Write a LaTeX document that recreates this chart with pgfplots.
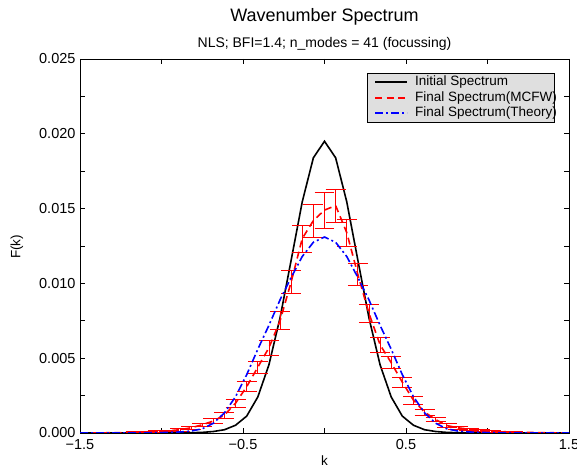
\documentclass[border=0pt]{standalone}
\usepackage{fontspec}
\setmainfont{Liberation Sans}
\usepackage{pgfplots}
\usepackage{pgfplotstable}
\pgfplotsset{compat=1.18}

\pgfplotstableread{
k F
-1.5000 0
-1.4318 0
-1.3636 0
-1.2955 0
-1.2273 0
-1.1591 0
-1.0909 0
-1.0227 0
-0.9545 0
-0.8864 0.00001
-0.8182 0.00002
-0.7500 0.00004
-0.6818 0.0001
-0.6136 0.00022
-0.5455 0.00052
-0.4773 0.00113
-0.4091 0.00241
-0.3409 0.00456
-0.2727 0.0077
-0.2045 0.01156
-0.1364 0.01546
-0.0682 0.0184
0.0000 0.0195
0.0682 0.0184
0.1364 0.01546
0.2045 0.01156
0.2727 0.0077
0.3409 0.00456
0.4091 0.00241
0.4773 0.00113
0.5455 0.00052
0.6136 0.00022
0.6818 0.0001
0.7500 0.00004
0.8182 0.00002
0.8864 0.00001
0.9545 0
1.0227 0
1.0909 0
1.1591 0
1.2273 0
1.2955 0
1.3636 0
1.4318 0
1.5000 0
}\initialtab

\pgfplotstableread{
k F
-1.5000 0
-1.4318 0.00001
-1.3636 0.00001
-1.2955 0.00002
-1.2273 0.00003
-1.1591 0.00005
-1.0909 0.00007
-1.0227 0.0001
-0.9545 0.00015
-0.8864 0.00022
-0.8182 0.00035
-0.7500 0.00055
-0.6818 0.0008
-0.6136 0.0012
-0.5455 0.0020
-0.4773 0.0031
-0.4091 0.0044
-0.3409 0.0057
-0.2727 0.0075
-0.2045 0.0101
-0.1364 0.0130
-0.0682 0.0142
0.0000 0.0149
0.0682 0.0152
0.1364 0.0134
0.2045 0.0106
0.2727 0.0080
0.3409 0.0059
0.4091 0.0047
0.4773 0.0034
0.5455 0.0022
0.6136 0.0014
0.6818 0.0009
0.7500 0.0005
0.8182 0.00035
0.8864 0.00025
0.9545 0.00018
1.0227 0.00012
1.0909 0.00009
1.1591 0.00006
1.2273 0.00004
1.2955 0.00003
1.3636 0.00002
1.4318 0.00001
1.5000 0.00001
}\mcfwtab

\pgfplotstableread{
k F
-1.5000 0
-1.4318 0
-1.3636 0
-1.2955 0
-1.2273 0
-1.1591 0
-1.0909 0.00001
-1.0227 0.00002
-0.9545 0.00004
-0.8864 0.00007
-0.8182 0.00013
-0.7500 0.00028
-0.6818 0.00065
-0.6136 0.00135
-0.5455 0.00243
-0.4773 0.0039
-0.4091 0.0056
-0.3409 0.0072
-0.2727 0.0089
-0.2045 0.0104
-0.1364 0.0118
-0.0682 0.01275
0.0000 0.0131
0.0682 0.01275
0.1364 0.0118
0.2045 0.0104
0.2727 0.0089
0.3409 0.0072
0.4091 0.0056
0.4773 0.0039
0.5455 0.00243
0.6136 0.00135
0.6818 0.00065
0.7500 0.00028
0.8182 0.00013
0.8864 0.00007
0.9545 0.00004
1.0227 0.00002
1.0909 0.00001
1.1591 0
1.2273 0
1.2955 0
1.3636 0
1.4318 0
1.5000 0
}\theorytab

\begin{document}
\begin{tikzpicture}[x=1pt,y=1pt]
\useasboundingbox (-80,-37) rectangle (497,433);
\begin{axis}[
  at={(0,0)}, anchor=south west,
  scale only axis, width=489pt, height=374pt,
  xmin=-1.5, xmax=1.5, ymin=0, ymax=0.025,
  xtick={-1.5,-0.5,0.5,1.5},
  xticklabels={−1.5,−0.5,0.5,1.5},
  minor xtick={-1,0,1},
  ytick={0,0.005,0.010,0.015,0.020,0.025},
  yticklabels={0.000,0.005,0.010,0.015,0.020,0.025},
  minor ytick={0.0025,0.0075,0.0125,0.0175,0.0225},
  scaled y ticks=false,
  tick align=inside,
  major tick length=5pt, minor tick length=5pt,
  tick style={black, line width=0.6pt},
  axis line style={line width=0.9pt},
  ticklabel style={font=\fontsize{14.5}{17}\selectfont},
  xticklabel style={yshift=-3pt},
  yticklabel style={xshift=-1pt},
  clip=true,
  unbounded coords=jump,
]
\addplot[color=black, line width=1.6pt] table[x=k,y=F] {\initialtab};
% vertical error bars (k, F-e) -- (k, F+e)
\addplot[color=red, solid, line width=0.7pt, forget plot] coordinates {
(-1.1591,0.00001) (-1.1591,0.00009) (0,nan)
(-1.0909,0.00003) (-1.0909,0.00011) (0,nan)
(-1.0227,0.00005) (-1.0227,0.00015) (0,nan)
(-0.9545,0.00009) (-0.9545,0.00021) (0,nan)
(-0.8864,0.00014) (-0.8864,0.00030) (0,nan)
(-0.8182,0.00025) (-0.8182,0.00045) (0,nan)
(-0.7500,0.00043) (-0.7500,0.00067) (0,nan)
(-0.6818,0.00065) (-0.6818,0.00095) (0,nan)
(-0.6136,0.00100) (-0.6136,0.00140) (0,nan)
(-0.5455,0.00174) (-0.5455,0.00226) (0,nan)
(-0.4773,0.00278) (-0.4773,0.00342) (0,nan)
(-0.4091,0.00400) (-0.4091,0.00480) (0,nan)
(-0.3409,0.00520) (-0.3409,0.00620) (0,nan)
(-0.2727,0.00690) (-0.2727,0.00810) (0,nan)
(-0.2045,0.00935) (-0.2045,0.01085) (0,nan)
(-0.1364,0.01210) (-0.1364,0.01390) (0,nan)
(-0.0682,0.01310) (-0.0682,0.01530) (0,nan)
(0.0000,0.01370) (0.0000,0.01610) (0,nan)
(0.0682,0.01410) (0.0682,0.01630) (0,nan)
(0.1364,0.01250) (0.1364,0.01430) (0,nan)
(0.2045,0.00985) (0.2045,0.01135) (0,nan)
(0.2727,0.00740) (0.2727,0.00860) (0,nan)
(0.3409,0.00540) (0.3409,0.00640) (0,nan)
(0.4091,0.00430) (0.4091,0.00510) (0,nan)
(0.4773,0.00308) (0.4773,0.00372) (0,nan)
(0.5455,0.00194) (0.5455,0.00246) (0,nan)
(0.6136,0.00120) (0.6136,0.00160) (0,nan)
(0.6818,0.00075) (0.6818,0.00105) (0,nan)
(0.7500,0.00038) (0.7500,0.00062) (0,nan)
(0.8182,0.00025) (0.8182,0.00045) (0,nan)
(0.8864,0.00017) (0.8864,0.00033) (0,nan)
(0.9545,0.00012) (0.9545,0.00024) (0,nan)
(1.0227,0.00007) (1.0227,0.00017) (0,nan)
(1.0909,0.00005) (1.0909,0.00013) (0,nan)
(1.1591,0.00002) (1.1591,0.00010)
};
% error bar caps (k +- cap half-width, F +- e)
\addplot[color=red, solid, line width=0.7pt, forget plot] coordinates {
(-1.2204,0.00009) (-1.0978,0.00009) (0,nan) (-1.2204,0.00001) (-1.0978,0.00001) (0,nan)
(-1.1522,0.00011) (-1.0296,0.00011) (0,nan) (-1.1522,0.00003) (-1.0296,0.00003) (0,nan)
(-1.0840,0.00015) (-0.9614,0.00015) (0,nan) (-1.0840,0.00005) (-0.9614,0.00005) (0,nan)
(-1.0158,0.00021) (-0.8932,0.00021) (0,nan) (-1.0158,0.00009) (-0.8932,0.00009) (0,nan)
(-0.9477,0.00030) (-0.8251,0.00030) (0,nan) (-0.9477,0.00014) (-0.8251,0.00014) (0,nan)
(-0.8795,0.00045) (-0.7569,0.00045) (0,nan) (-0.8795,0.00025) (-0.7569,0.00025) (0,nan)
(-0.8113,0.00067) (-0.6887,0.00067) (0,nan) (-0.8113,0.00043) (-0.6887,0.00043) (0,nan)
(-0.7431,0.00095) (-0.6205,0.00095) (0,nan) (-0.7431,0.00065) (-0.6205,0.00065) (0,nan)
(-0.6749,0.00140) (-0.5523,0.00140) (0,nan) (-0.6749,0.00100) (-0.5523,0.00100) (0,nan)
(-0.6068,0.00226) (-0.4842,0.00226) (0,nan) (-0.6068,0.00174) (-0.4842,0.00174) (0,nan)
(-0.5386,0.00342) (-0.4160,0.00342) (0,nan) (-0.5386,0.00278) (-0.4160,0.00278) (0,nan)
(-0.4704,0.00480) (-0.3478,0.00480) (0,nan) (-0.4704,0.00400) (-0.3478,0.00400) (0,nan)
(-0.4022,0.00620) (-0.2796,0.00620) (0,nan) (-0.4022,0.00520) (-0.2796,0.00520) (0,nan)
(-0.3340,0.00810) (-0.2114,0.00810) (0,nan) (-0.3340,0.00690) (-0.2114,0.00690) (0,nan)
(-0.2658,0.01085) (-0.1432,0.01085) (0,nan) (-0.2658,0.00935) (-0.1432,0.00935) (0,nan)
(-0.1977,0.01390) (-0.0751,0.01390) (0,nan) (-0.1977,0.01210) (-0.0751,0.01210) (0,nan)
(-0.1295,0.01530) (-0.0069,0.01530) (0,nan) (-0.1295,0.01310) (-0.0069,0.01310) (0,nan)
(-0.0613,0.01610) (0.0613,0.01610) (0,nan) (-0.0613,0.01370) (0.0613,0.01370) (0,nan)
(0.0069,0.01630) (0.1295,0.01630) (0,nan) (0.0069,0.01410) (0.1295,0.01410) (0,nan)
(0.0751,0.01430) (0.1977,0.01430) (0,nan) (0.0751,0.01250) (0.1977,0.01250) (0,nan)
(0.1432,0.01135) (0.2658,0.01135) (0,nan) (0.1432,0.00985) (0.2658,0.00985) (0,nan)
(0.2114,0.00860) (0.3340,0.00860) (0,nan) (0.2114,0.00740) (0.3340,0.00740) (0,nan)
(0.2796,0.00640) (0.4022,0.00640) (0,nan) (0.2796,0.00540) (0.4022,0.00540) (0,nan)
(0.3478,0.00510) (0.4704,0.00510) (0,nan) (0.3478,0.00430) (0.4704,0.00430) (0,nan)
(0.4160,0.00372) (0.5386,0.00372) (0,nan) (0.4160,0.00308) (0.5386,0.00308) (0,nan)
(0.4842,0.00246) (0.6068,0.00246) (0,nan) (0.4842,0.00194) (0.6068,0.00194) (0,nan)
(0.5523,0.00160) (0.6749,0.00160) (0,nan) (0.5523,0.00120) (0.6749,0.00120) (0,nan)
(0.6205,0.00105) (0.7431,0.00105) (0,nan) (0.6205,0.00075) (0.7431,0.00075) (0,nan)
(0.6887,0.00062) (0.8113,0.00062) (0,nan) (0.6887,0.00038) (0.8113,0.00038) (0,nan)
(0.7569,0.00045) (0.8795,0.00045) (0,nan) (0.7569,0.00025) (0.8795,0.00025) (0,nan)
(0.8251,0.00033) (0.9477,0.00033) (0,nan) (0.8251,0.00017) (0.9477,0.00017) (0,nan)
(0.8932,0.00024) (1.0158,0.00024) (0,nan) (0.8932,0.00012) (1.0158,0.00012) (0,nan)
(0.9614,0.00017) (1.0840,0.00017) (0,nan) (0.9614,0.00007) (1.0840,0.00007) (0,nan)
(1.0296,0.00013) (1.1522,0.00013) (0,nan) (1.0296,0.00005) (1.1522,0.00005) (0,nan)
(1.0978,0.00010) (1.2204,0.00010) (0,nan) (1.0978,0.00002) (1.2204,0.00002)
};
\addplot[color=red, line width=1.6pt, dash pattern=on 7pt off 4.5pt] table[x=k,y=F] {\mcfwtab};
\addplot[color=blue, line width=1.6pt, dash pattern=on 8pt off 3pt on 2pt off 3pt] table[x=k,y=F] {\theorytab};
\end{axis}
% legend
\draw[fill=gray!25, draw=black, line width=0.6pt] (287,311) rectangle (474,360);
\draw[color=black, line width=1.8pt] (295,351.3) -- (327,351.3);
\draw[color=red, line width=1.6pt, dash pattern=on 7pt off 4.5pt] (295,334.7) -- (327,334.7);
\draw[color=blue, line width=1.6pt, dash pattern=on 8pt off 3pt on 2pt off 3pt] (295,319.7) -- (327,319.7);
\node[font=\fontsize{13.5}{16}\selectfont, anchor=west, inner sep=0pt] at (335,351.3) {Initial Spectrum};
\node[font=\fontsize{13.5}{16}\selectfont, anchor=west, inner sep=0pt] at (335,334.7) {Final Spectrum(MCFW)};
\node[font=\fontsize{13.5}{16}\selectfont, anchor=west, inner sep=0pt] at (335,319.7) {Final Spectrum(Theory)};
\node[font=\fontsize{18}{21}\selectfont] at (244.5,416) {Wavenumber Spectrum};
\node[font=\fontsize{14}{16}\selectfont] at (244.5,389) {NLS; BFI=1.4; n\_modes = 41 (focussing)};
\node[font=\fontsize{13.5}{16}\selectfont] at (244.5,-28) {k};
\node[font=\fontsize{13.5}{16}\selectfont, rotate=90] at (-63,186) {F(k)};
\end{tikzpicture}
\end{document}
